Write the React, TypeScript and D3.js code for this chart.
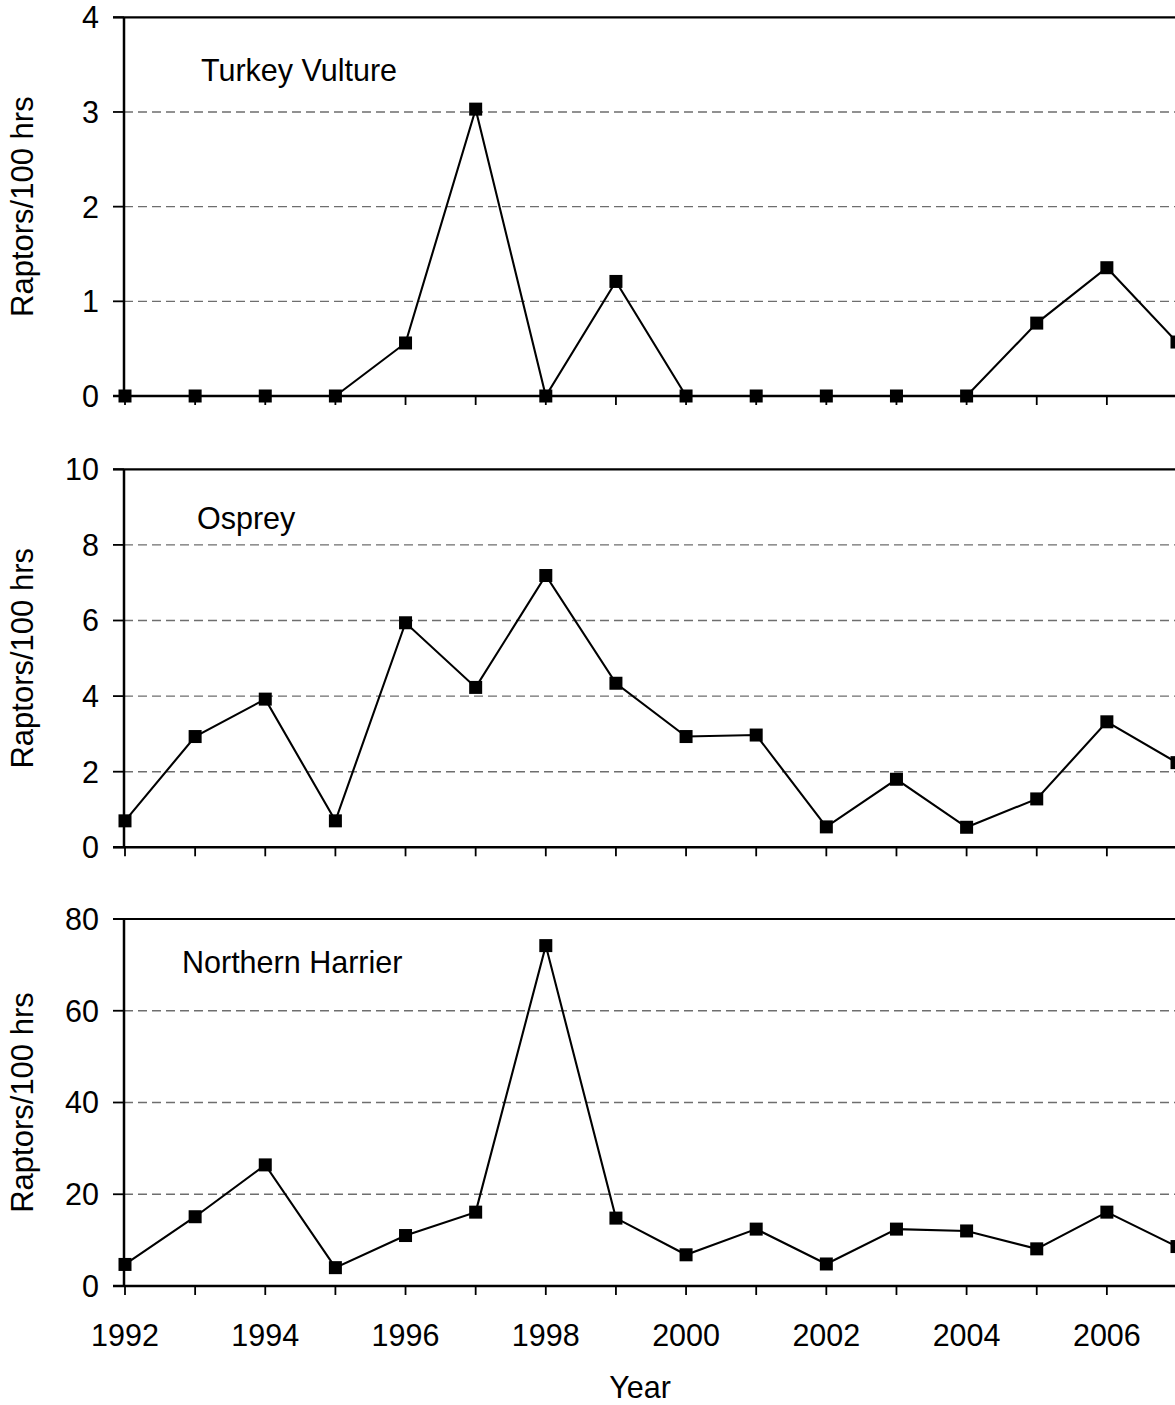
import React from 'react'
import * as d3 from 'd3'

const years = [1992, 1993, 1994, 1995, 1996, 1997, 1998, 1999, 2000, 2001, 2002, 2003, 2004, 2005, 2006, 2007]
const yearLabels = [1992, 1994, 1996, 1998, 2000, 2002, 2004, 2006]

const turkeyVulture = [0, 0, 0, 0, 0.56, 3.03, 0, 1.21, 0, 0, 0, 0, 0, 0.77, 1.355, 0.57]
const osprey = [0.7, 2.93, 3.92, 0.7, 5.94, 4.23, 7.19, 4.34, 2.93, 2.97, 0.54, 1.8, 0.53, 1.28, 3.32, 2.24]
const northernHarrier = [4.7, 15.1, 26.4, 4.0, 11.0, 16.1, 74.2, 14.8, 6.8, 12.4, 4.8, 12.4, 12.0, 8.1, 16.1, 8.6]

const tvTicks = [0, 1, 2, 3, 4]
const ospreyTicks = [0, 2, 4, 6, 8, 10]
const harrierTicks = [0, 20, 40, 60, 80]

const W = 1175
const H = 1405
const FONT = '"Liberation Sans", Arial, sans-serif'
const FS = 30.5
const axisX = 124

const x = d3.scaleLinear().domain([1992, 2007]).range([125, 1177])

interface PanelProps {
  name: string
  values: number[]
  ticks: number[]
  top: number
  bottom: number
  titleX: number
  titleY: number
  showYears?: boolean
}

const Panel: React.FC<PanelProps> = ({ name, values, ticks, top, bottom, titleX, titleY, showYears }) => {
  const max = ticks[ticks.length - 1]
  const y = d3.scaleLinear().domain([0, max]).range([bottom, top])
  const line = d3
    .line<number>()
    .x((_, i) => x(years[i]))
    .y((d) => y(d))
  return (
    <g>
      {ticks.slice(1, -1).map((t) => (
        <line key={'g' + t} x1={axisX} x2={W + 10} y1={y(t)} y2={y(t)} stroke="#6e6e6e" strokeWidth={1.4} strokeDasharray="9 5" />
      ))}
      {/* top border */}
      <line x1={axisX - 11} x2={W + 10} y1={y(max)} y2={y(max)} stroke="#000" strokeWidth={2.2} />
      {/* y axis */}
      <line x1={axisX} x2={axisX} y1={y(max)} y2={bottom} stroke="#000" strokeWidth={2.5} />
      {ticks.map((t) => (
        <g key={'t' + t}>
          <line x1={axisX - 11} x2={axisX} y1={y(t)} y2={y(t)} stroke="#000" strokeWidth={1.8} />
          <text x={99} y={y(t)} dy="0.36em" textAnchor="end" fontFamily={FONT} fontSize={FS}>
            {t}
          </text>
        </g>
      ))}
      {/* x axis */}
      <line x1={axisX - 11} x2={W + 10} y1={bottom} y2={bottom} stroke="#000" strokeWidth={2.5} />
      {years.map((yr) => (
        <line key={'x' + yr} x1={x(yr)} x2={x(yr)} y1={bottom} y2={bottom + 9} stroke="#000" strokeWidth={1.8} />
      ))}
      {showYears &&
        yearLabels.map((yr) => (
          <text key={'l' + yr} x={x(yr)} y={bottom + 60} textAnchor="middle" fontFamily={FONT} fontSize={FS}>
            {yr}
          </text>
        ))}
      <text
        transform={`translate(33,${(top + bottom) / 2}) rotate(-90)`}
        textAnchor="middle"
        fontFamily={FONT}
        fontSize={31}
      >
        Raptors/100 hrs
      </text>
      <text x={titleX} y={titleY} fontFamily={FONT} fontSize={FS}>
        {name}
      </text>
      <path d={line(values) || ''} fill="none" stroke="#000" strokeWidth={2.1} />
      {values.map((v, i) => (
        <rect key={'m' + i} x={x(years[i]) - 6.5} y={y(v) - 6.5} width={13} height={13} fill="#000" />
      ))}
    </g>
  )
}

export default function App() {
  return (
    <svg
      width={W}
      height={H}
      viewBox={`0 0 ${W} ${H}`}
      style={{ position: 'absolute', left: 0, top: 0, background: '#fff' }}
    >
      <rect width={W} height={H} fill="#fff" />
      <Panel name="Turkey Vulture" values={turkeyVulture} ticks={tvTicks} top={17.3} bottom={396} titleX={201} titleY={81} />
      <Panel name="Osprey" values={osprey} ticks={ospreyTicks} top={469.3} bottom={847.3} titleX={197} titleY={529} />
      <Panel
        name="Northern Harrier"
        values={northernHarrier}
        ticks={harrierTicks}
        top={919}
        bottom={1286}
        titleX={182}
        titleY={973}
        showYears
      />
      <text x={640} y={1398} textAnchor="middle" fontFamily={FONT} fontSize={FS}>
        Year
      </text>
    </svg>
  )
}
